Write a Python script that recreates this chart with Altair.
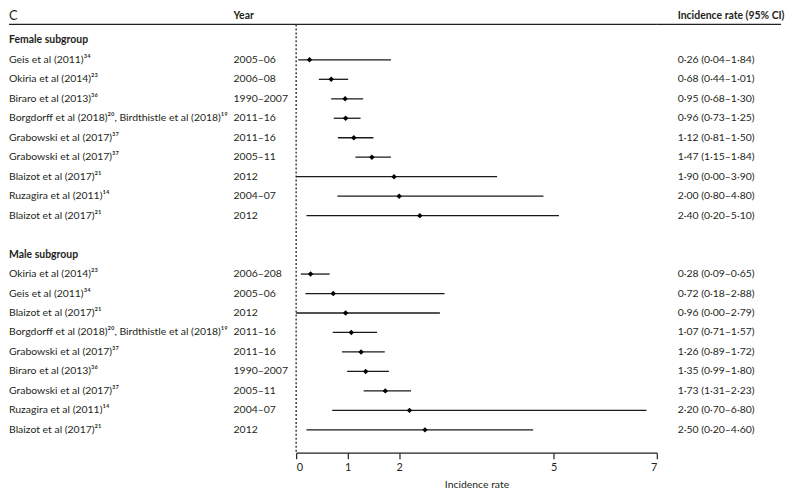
import altair as alt
import pandas as pd

# ---------------- data ----------------
female_studies = [
    "Geis et al (2011)³⁴", "Okiria et al (2014)²³", "Biraro et al (2013)³⁶",
    "Borgdorff et al (2018)²⁰, Birdthistle et al (2018)¹⁹",
    "Grabowski et al (2017)³⁷", "Grabowski et al (2017)³⁷",
    "Blaizot et al (2017)²¹", "Ruzagira et al (2011)¹⁴", "Blaizot et al (2017)²¹",
]
female_years = ["2005–06", "2006–08", "1990–2007", "2011–16", "2011–16",
                "2005–11", "2012", "2004–07", "2012"]
female_est = [0.26, 0.68, 0.95, 0.96, 1.12, 1.47, 1.90, 2.00, 2.40]
female_lo = [0.04, 0.44, 0.68, 0.73, 0.81, 1.15, 0.00, 0.80, 0.20]
female_hi = [1.84, 1.01, 1.30, 1.25, 1.50, 1.84, 3.90, 4.80, 5.10]

male_studies = [
    "Okiria et al (2014)²³", "Geis et al (2011)³⁴", "Blaizot et al (2017)²¹",
    "Borgdorff et al (2018)²⁰, Birdthistle et al (2018)¹⁹",
    "Grabowski et al (2017)³⁷", "Biraro et al (2013)³⁶",
    "Grabowski et al (2017)³⁷", "Ruzagira et al (2011)¹⁴", "Blaizot et al (2017)²¹",
]
male_years = ["2006–208", "2005–06", "2012", "2011–16", "2011–16",
              "1990–2007", "2005–11", "2004–07", "2012"]
male_est = [0.28, 0.72, 0.96, 1.07, 1.26, 1.35, 1.73, 2.20, 2.50]
male_lo = [0.09, 0.18, 0.00, 0.71, 0.89, 0.99, 1.31, 0.70, 0.20]
male_hi = [0.65, 2.88, 2.79, 1.57, 1.72, 1.80, 2.23, 6.80, 4.60]

group_labels = ["Female subgroup", "Male subgroup"]
x_ticks = [0, 1, 2, 5, 7]
panel_letter = "C"
col_year = "Year"
col_rate = "Incidence rate (95% CI)"
x_title = "Incidence rate"

# ---------------- table ----------------
def fmt(v):
    return f"{v:.2f}".replace(".", "·")

rows = []
r = 1
for s, y, e, lo, hi in zip(female_studies, female_years, female_est, female_lo, female_hi):
    rows.append(dict(r=r, study=s, year=y, est=e, lo=lo, hi=hi,
                     label=f"{fmt(e)} ({fmt(lo)}–{fmt(hi)})"))
    r += 1
r += 2
for s, y, e, lo, hi in zip(male_studies, male_years, male_est, male_lo, male_hi):
    rows.append(dict(r=r, study=s, year=y, est=e, lo=lo, hi=hi,
                     label=f"{fmt(e)} ({fmt(lo)}–{fmt(hi)})"))
    r += 1
df = pd.DataFrame(rows)
groups = pd.DataFrame({"r": [0, 11], "g": group_labels})

R_TOP, R_BOT = -1.582, 21.173
R_HEAD, R_LINE = -1.225, -0.817
H = 446
W1, W2, W3 = 289, 363, 125
FONT = "Lato"
FS = 10.5
TXT = "#231f20"

yscale = alt.Scale(domain=[R_TOP, R_BOT], reverse=True, nice=False, zero=False)

def Y(field="r"):
    return alt.Y(f"{field}:Q", scale=yscale, axis=None)

head = pd.DataFrame({"r": [R_HEAD]})
line = pd.DataFrame({"r": [R_LINE]})

# ---------------- left panel ----------------
names = alt.Chart(df).mark_text(align="left", baseline="middle", font=FONT,
                                fontSize=FS, color=TXT).encode(
    x=alt.value(0), y=Y(), text="study:N")
years = alt.Chart(df).mark_text(align="left", baseline="middle", font=FONT,
                                fontSize=FS, color=TXT).encode(
    x=alt.value(226), y=Y(), text="year:N")
grp = alt.Chart(groups).mark_text(align="left", baseline="middle", font=FONT,
                                  fontSize=FS, fontWeight="bold", color=TXT).encode(
    x=alt.value(0), y=Y(), text="g:N")
letter = alt.Chart(head).mark_text(align="left", baseline="middle", font=FONT,
                                   fontSize=13, color=TXT, text=panel_letter).encode(
    x=alt.value(0), y=Y())
yhead = alt.Chart(head).mark_text(align="left", baseline="middle", font=FONT,
                                  fontSize=FS, fontWeight="bold", color=TXT,
                                  text=col_year).encode(
    x=alt.value(226), y=Y())
rule1 = alt.Chart(line).mark_rule(color=TXT, strokeWidth=1.2).encode(
    x=alt.value(0), x2=alt.value(W1), y=Y())
left = alt.layer(rule1, names, years, grp, letter, yhead).properties(width=W1, height=H)

# ---------------- plot panel ----------------
xscale = alt.Scale(domain=[0, 7], nice=False, zero=False)
rule2 = alt.Chart(line).mark_rule(color=TXT, strokeWidth=1.2).encode(
    x=alt.value(0), x2=alt.value(W2), y=Y())
zero = alt.Chart(pd.DataFrame({"x": [0], "r1": [R_LINE], "r2": [R_BOT]})).mark_rule(
    color=TXT, strokeWidth=1.3, strokeDash=[2, 2]).encode(
    x=alt.X("x:Q", scale=xscale), y=Y("r1"), y2="r2:Q")
ci = alt.Chart(df).mark_rule(color="#1a1a1a", strokeWidth=1.3).encode(
    x=alt.X("lo:Q", scale=xscale,
            axis=alt.Axis(values=x_ticks, title=x_title, grid=False, format="d")),
    x2="hi:Q", y=Y())
pts = alt.Chart(df).mark_point(shape="diamond", filled=True, size=30,
                               color="black", opacity=1).encode(
    x=alt.X("est:Q", scale=xscale), y=Y())
mid = alt.layer(rule2, zero, ci, pts).properties(width=W2, height=H)

# ---------------- right panel ----------------
lab = alt.Chart(df).mark_text(align="left", baseline="middle", font=FONT,
                              fontSize=FS, color=TXT).encode(
    x=alt.value(21), y=Y(), text="label:N")
rhead = alt.Chart(head).mark_text(align="left", baseline="middle", font=FONT,
                                  fontSize=FS, fontWeight="bold", color=TXT,
                                  text=col_rate).encode(
    x=alt.value(21), y=Y())
rule3 = alt.Chart(line).mark_rule(color=TXT, strokeWidth=1.2).encode(
    x=alt.value(0), x2=alt.value(W3), y=Y())
right = alt.layer(rule3, lab, rhead).properties(width=W3, height=H)

chart = alt.hconcat(left, mid, right, spacing=0, bounds="flush").properties(
    padding={"left": 0, "top": 0, "right": 0, "bottom": 0}
).configure_view(strokeWidth=0).configure_axis(
    domainColor=TXT, domainWidth=1.2, tickColor=TXT, tickWidth=1.2, tickSize=6,
    labelFont=FONT, labelFontSize=11, labelColor=TXT, labelPadding=3,
    titleFont=FONT, titleFontSize=FS, titleFontWeight="normal", titleColor=TXT,
    titlePadding=7,
)

chart.save("out.html", embed_options={"renderer": "svg", "actions": False})
